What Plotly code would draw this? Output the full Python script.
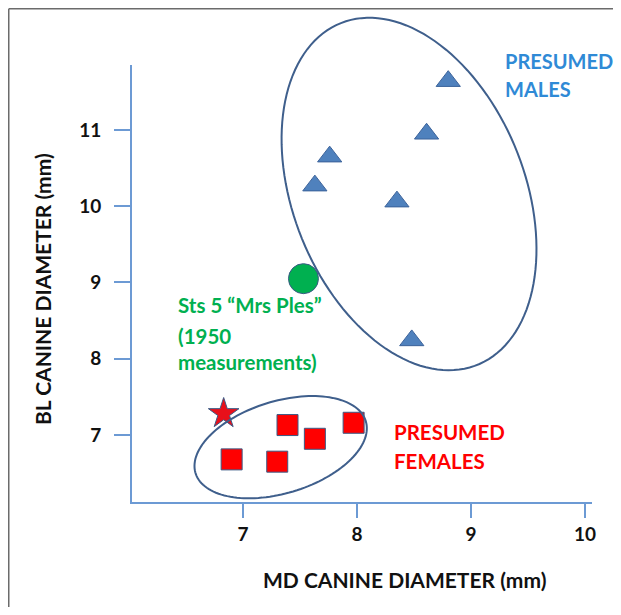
import numpy as np
import plotly.graph_objects as go

# ---- data ----
male_x = [8.80, 8.61, 7.76, 7.63, 8.35, 8.48]
male_y = [11.64, 10.95, 10.65, 10.27, 10.06, 8.24]
female_x = [6.90, 7.30, 7.39, 7.63, 7.97]
female_y = [6.68, 6.65, 7.13, 6.95, 7.16]
star_x = [6.83]
star_y = [7.28]
ples_x = [7.53]
ples_y = [9.05]
x_ticks = [7, 8, 9, 10]
y_ticks = [7, 8, 9, 10, 11]

# ---- layout geometry (page has an 8px body margin) ----
OFF = 8
W_FIG, H_FIG = 605, 599
ML, MR, MT, MB = 124, 21, 57, 105
PW = W_FIG - ML - MR
PH = H_FIG - MT - MB
XR = [6.026, 10.061]
YR = [6.121, 11.852]


def to_paper_from_px(px, py):
    px -= OFF
    py -= OFF
    return (px - ML) / PW, (H_FIG - MB - py) / PH


def ellipse_path(cx, cy, a_px, b_px, ang_deg, n=140):
    t = np.linspace(0, 2 * np.pi, n)
    th = np.deg2rad(ang_deg)
    ex = a_px * np.cos(t) * np.cos(th) - b_px * np.sin(t) * np.sin(th)
    ey = a_px * np.cos(t) * np.sin(th) + b_px * np.sin(t) * np.cos(th)
    pcx = (cx - XR[0]) / (XR[1] - XR[0])
    pcy = (cy - YR[0]) / (YR[1] - YR[0])
    xs = pcx + ex / PW
    ys = pcy + ey / PH
    return "M " + " L ".join(f"{x:.5f},{y:.5f}" for x, y in zip(xs, ys)) + " Z"


outline = "#3f5f8c"
axis_col = "#6c9ad4"

fig = go.Figure()
fig.add_trace(go.Scatter(
    x=male_x, y=male_y, mode="markers", cliponaxis=False,
    marker=dict(symbol="triangle-up", size=21, color="#4f81bd",
                line=dict(color="#3b629a", width=1)),
    showlegend=False, hoverinfo="skip"))
fig.add_trace(go.Scatter(
    x=female_x, y=female_y, mode="markers", cliponaxis=False,
    marker=dict(symbol="square", size=21, color="#ff0000",
                line=dict(color="#3b5a85", width=1)),
    showlegend=False, hoverinfo="skip"))
fig.add_trace(go.Scatter(
    x=star_x, y=star_y, mode="markers", cliponaxis=False,
    marker=dict(symbol="star", size=23, color="#e8101a",
                line=dict(color="#3b5a85", width=1)),
    showlegend=False, hoverinfo="skip"))
fig.add_trace(go.Scatter(
    x=ples_x, y=ples_y, mode="markers", cliponaxis=False,
    marker=dict(symbol="circle", size=30, color="#00b050",
                line=dict(color="#3b5a85", width=1)),
    showlegend=False, hoverinfo="skip"))

shapes = [
    dict(type="path", xref="paper", yref="paper",
         path=ellipse_path(8.456, 10.16, 184, 116, 111.7),
         line=dict(color=outline, width=2), layer="above"),
    dict(type="path", xref="paper", yref="paper",
         path=ellipse_path(7.33, 6.84, 89, 46, 17),
         line=dict(color=outline, width=2), layer="above"),
]
# frame: left and top edges only (right/bottom fall outside the picture)
bx0, by0 = to_paper_from_px(8.75, 8.75)
bx1, by1 = to_paper_from_px(640, 640)
shapes.append(dict(type="line", xref="paper", yref="paper",
                   x0=bx0, y0=by0, x1=bx1, y1=by0,
                   line=dict(color="#6b6b6b", width=1.5)))
shapes.append(dict(type="line", xref="paper", yref="paper",
                   x0=bx0, y0=by0, x1=bx0, y1=by1,
                   line=dict(color="#6b6b6b", width=1.5)))

FONT = "Lato"
annotations = []


def add_text(txt, px, py, color, size, xanchor="left", angle=0):
    x, y = to_paper_from_px(px, py)
    annotations.append(dict(
        text=txt, x=x, y=y, xref="paper", yref="paper", showarrow=False,
        xanchor=xanchor, yanchor="middle", textangle=angle,
        font=dict(family=FONT, size=size, color=color, weight="bold")))


add_text("PRESUMED", 503, 61, "#2f8ad6", 20)
add_text("MALES", 503, 89, "#2f8ad6", 20)
add_text("PRESUMED", 392, 432, "#ff0000", 20.5)
add_text("FEMALES", 392, 461, "#ff0000", 20.5)
add_text("Sts 5 \u201cMrs Ples\u201d", 176, 305, "#00b050", 20.5)
add_text("(1950", 176, 336, "#00b050", 20.5)
add_text("measurements)", 176, 362, "#00b050", 20.5)
add_text("MD CANINE DIAMETER (mm)", 404, 579, "#111111", 21, xanchor="center")
add_text("BL CANINE DIAMETER (mm)", 42, 289, "#111111", 21, xanchor="center", angle=-90)

fig.update_layout(
    width=W_FIG, height=H_FIG,
    margin=dict(l=ML, r=MR, t=MT, b=MB, autoexpand=False),
    paper_bgcolor="white", plot_bgcolor="white",
    shapes=shapes, annotations=annotations,
    xaxis=dict(range=XR, tickvals=x_ticks, ticktext=[str(v) for v in x_ticks],
               showgrid=False, zeroline=False, showline=True,
               linecolor=axis_col, linewidth=1.5,
               ticks="outside", ticklen=14, tickwidth=1.5, tickcolor=axis_col,
               tickfont=dict(family=FONT, size=19, color="#111111", weight="bold")),
    yaxis=dict(range=YR, tickvals=y_ticks,
               ticktext=[f"{v}\u00a0\u00a0" for v in y_ticks],
               showgrid=False, zeroline=False, showline=True,
               linecolor=axis_col, linewidth=1.5,
               ticks="outside", ticklen=16, tickwidth=1.5, tickcolor=axis_col,
               tickfont=dict(family=FONT, size=19, color="#111111", weight="bold")),
)

fig.write_html("out.html")
